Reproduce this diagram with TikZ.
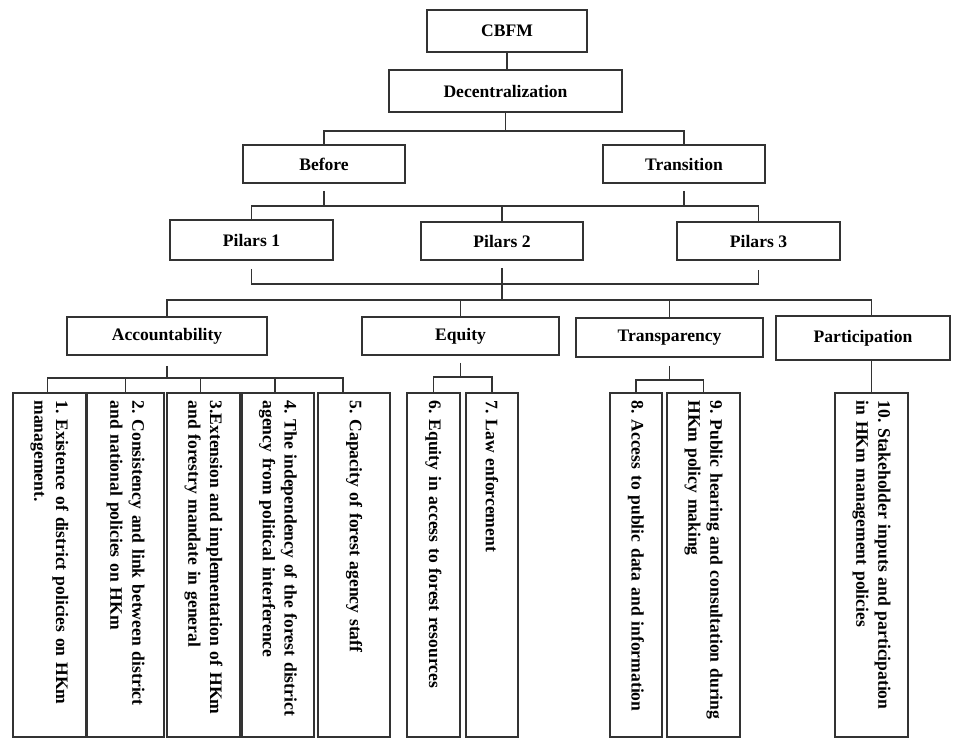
\documentclass[tikz,border=0pt]{standalone}
\usepackage{fontspec}
\setmainfont{Liberation Serif}
\tikzset{
  box/.style={draw=black!80, line width=0.032cm, rectangle, inner sep=0pt, align=center},
  leaf/.style={box, rotate=-90, minimum width=6.880000cm, text width=6.580000cm, align=left},
  link/.style={draw=black!80, line width=0.028cm},
}
\begin{document}
\begin{tikzpicture}
            \useasboundingbox (0.000000,0.000000) rectangle (19.120000,-14.780000);
            {\fontsize{10}{12.5}\selectfont\bfseries\frenchspacing

            % Marking top boxes
            \node [box, minimum width=3.200000cm, minimum height=0.840000cm] (cbfm) at (10.140000,-0.620000) {CBFM};%
            \node [box, minimum width=4.660000cm, minimum height=0.840000cm] (dec) at (10.110000,-1.820000) {Decentralization};%
            \node [box, minimum width=3.240000cm, minimum height=0.760000cm] (before) at (6.480000,-3.280000) {Before};%
            \node [box, minimum width=3.240000cm, minimum height=0.760000cm] (trans) at (13.680000,-3.280000) {Transition};%

            % Marking pilars
            \node [box, minimum width=3.260000cm, minimum height=0.800000cm] (pil1) at (5.030000,-4.800000) {Pilars 1};%
            \node [box, minimum width=3.240000cm, minimum height=0.760000cm] (pil2) at (10.040000,-4.820000) {Pilars 2};%
            \node [box, minimum width=3.260000cm, minimum height=0.760000cm] (pil3) at (15.170000,-4.820000) {Pilars 3};%

            % Marking principles
            \node [box, minimum width=4.000000cm, minimum height=0.760000cm] (acc) at (3.340000,-6.720000) {Accountability};%
            \node [box, minimum width=3.940000cm, minimum height=0.760000cm] (eq) at (9.210000,-6.720000) {Equity};%
            \node [box, minimum width=3.740000cm, minimum height=0.780000cm] (tr) at (13.390000,-6.750000) {Transparency};%
            \node [box, minimum width=3.480000cm, minimum height=0.880000cm] (part) at (17.260000,-6.760000) {Participation};%

            % Marking indicators (rotated, top of box is west anchor)
            \node [leaf, minimum height=1.460000cm] (l1) at (0.990000,-11.300000) {1. Existence of district policies on HKm\\management.};%
            \node [leaf, minimum height=1.540000cm] (l2) at (2.510000,-11.300000) {2. Consistency and link between district\\and national policies on HKm};%
            \node [leaf, minimum height=1.460000cm] (l3) at (4.070000,-11.300000) {3.Extension and implementation of HKm\\and forestry mandate in general};%
            \node [leaf, minimum height=1.440000cm] (l4) at (5.560000,-11.300000) {4. The independency of the forest district\\agency from political interference};%
            \node [leaf, minimum height=1.440000cm] (l5) at (7.080000,-11.300000) {5. Capacity of forest agency staff};%
            \node [leaf, minimum height=1.060000cm] (l6) at (8.670000,-11.300000) {6. Equity in access to forest resources};%
            \node [leaf, minimum height=1.040000cm] (l7) at (9.840000,-11.300000) {7. Law enforcement};%
            \node [leaf, minimum height=1.040000cm] (l8) at (12.720000,-11.300000) {8. Access to public data and information};%
            \node [leaf, minimum height=1.460000cm] (l9) at (14.070000,-11.300000) {9. Public hearing and consultation during\\HKm policy making};%
            \node [leaf, minimum height=1.460000cm] (l10) at (17.430000,-11.300000) {10. Stakeholder inputs and participation\\in HKm management policies};%

            % Bus heights
            \coordinate (decbus) at (0.000000,-2.620000);%
            \coordinate (pilbus) at (0.000000,-4.120000);%
            \coordinate (pilbr) at (0.000000,-5.680000);%
            \coordinate (mainbus) at (0.000000,-6.000000);%
            \coordinate (accbus) at (0.000000,-7.560000);%
            \coordinate (eqbus) at (0.000000,-7.540000);%
            \coordinate (trbus) at (0.000000,-7.600000);%

            % Drawing CBFM to Decentralization
            \draw [link] (cbfm.south) -- (cbfm.south |- dec.north);%

            % Drawing Decentralization to Before and Transition
            \draw [link] (dec.south) -- (dec.south |- decbus);%
            \draw [link] (before.north) |- (trans.north |- decbus) -- (trans.north);%

            % Drawing Before and Transition to pilars
            \draw [link, shorten <=0.140000cm] (before.south) -- (before.south |- pilbus);%
            \draw [link, shorten <=0.140000cm] (trans.south) -- (trans.south |- pilbus);%
            \draw [link] (pil1.north) |- (pil3.north |- pilbus) -- (pil3.north);%
            \draw [link] (pil2.north) -- (pil2.north |- pilbus);%

            % Drawing pilars to principles
            \draw [link, shorten <=0.160000cm, shorten >=0.180000cm] (pil1.south) |- (pil3.south |- pilbr) -- (pil3.south);%
            \draw [link, shorten <=0.140000cm] (pil2.south) -- (pil2.south |- mainbus);%
            \draw [link] (acc.north) |- (l10.west |- mainbus) -- (l10.west |- part.north);%
            \draw [link] (eq.north) -- (eq.north |- mainbus);%
            \draw [link] (tr.north) -- (tr.north |- mainbus);%

            % Drawing Accountability to indicators 1-5
            \draw [link, shorten <=0.200000cm] (acc.south) -- (acc.south |- accbus);%
            \draw [link] ([xshift=-0.040000cm]l1.west) |- ([xshift=-0.220000cm]l5.west |- accbus) -- ([xshift=-0.220000cm]l5.west);%
            \draw [link] (l2.west) -- (l2.west |- accbus);%
            \draw [link] ([xshift=-0.060000cm]l3.west) -- ([xshift=-0.060000cm]l3.west |- accbus);%
            \draw [link] ([xshift=-0.060000cm]l4.west) -- ([xshift=-0.060000cm]l4.west |- accbus);%

            % Drawing Equity to indicators 6-7
            \draw [link, shorten <=0.140000cm] (eq.south) -- (eq.south |- eqbus);%
            \draw [link] (l6.west) |- (l7.west |- eqbus) -- (l7.west);%

            % Drawing Transparency to indicators 8-9
            \draw [link, shorten <=0.160000cm] (tr.south) -- (tr.south |- trbus);%
            \draw [link] (l8.west) |- (l9.west |- trbus) -- (l9.west);%

            % Drawing Participation to indicator 10
            \draw [link] (part.south -| l10.west) -- (l10.west);%
            }
        \end{tikzpicture}
\end{document}
